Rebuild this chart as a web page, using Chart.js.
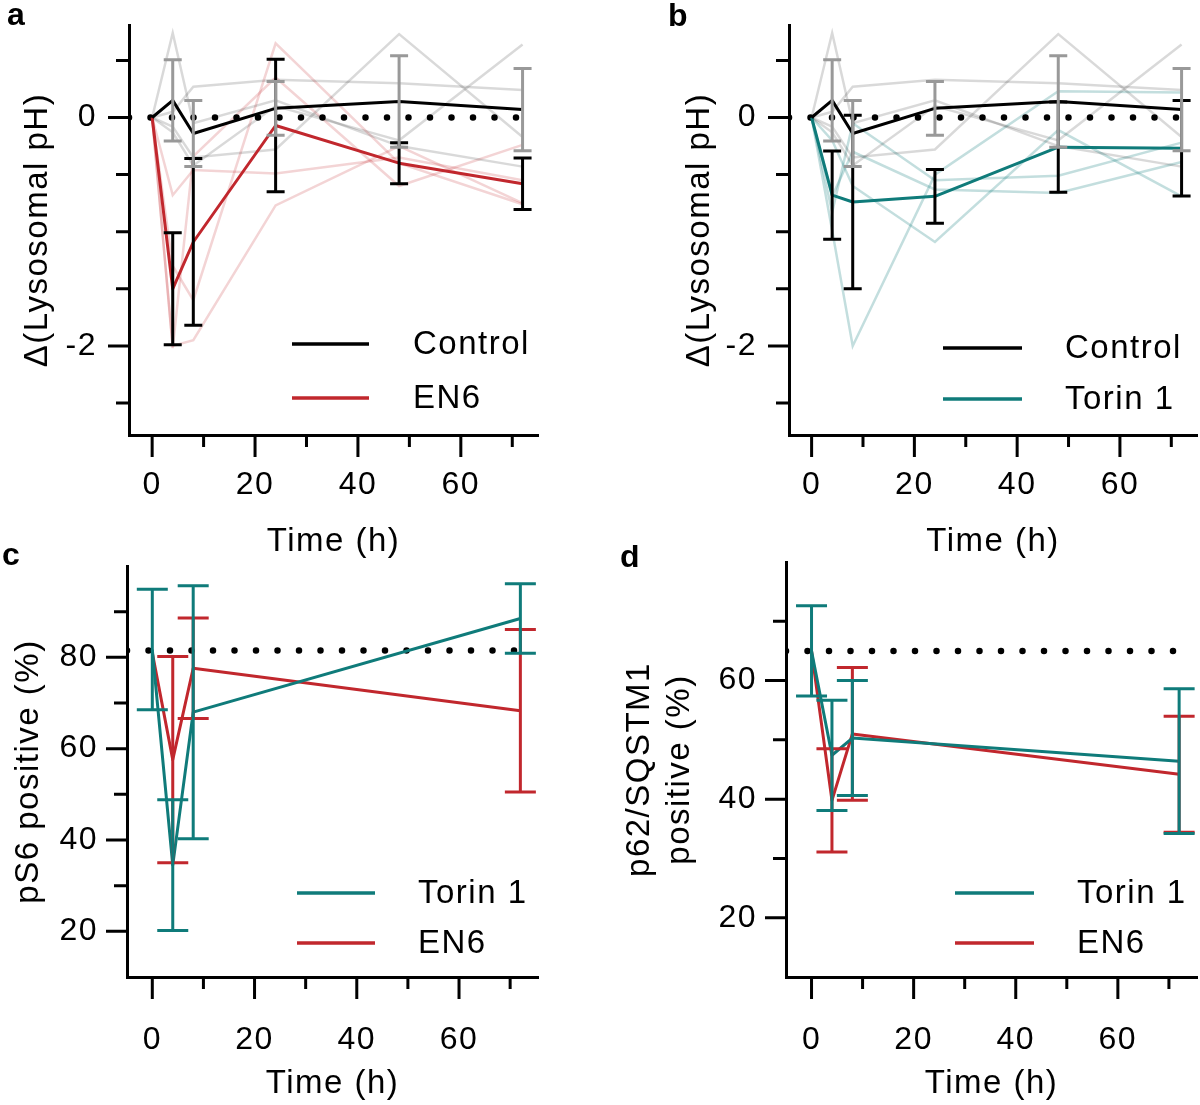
<!DOCTYPE html>
<html>
<head>
<meta charset="utf-8">
<script src="https://cdn.jsdelivr.net/npm/chart.js@4.4.1/dist/chart.umd.min.js"></script>
<style>
  html, body { margin: 0; padding: 0; background: #fff; }
  #wrap { position: relative; width: 1200px; height: 1105px; overflow: hidden; }
  canvas { position: absolute; }
</style>
</head>
<body>
<div id="wrap">
  <canvas id="pa" width="600" height="570" style="left:0;top:0"></canvas>
  <canvas id="pb" width="600" height="570" style="left:600px;top:0"></canvas>
  <canvas id="pc" width="600" height="560" style="left:0;top:545px"></canvas>
  <canvas id="pd" width="600" height="560" style="left:600px;top:545px"></canvas>
</div>
<script>
// ---------- data: lysosomal pH (panels a, b) ----------
const phTimes = [0, 4, 8, 24, 48, 72];
const controlMean = [0, 0.15, -0.14, 0.08, 0.14, 0.07];
const controlErr = [0, 0.355, 0.29, 0.235, 0.40, 0.36];
const en6PhMean = [0, -1.50, -1.09, -0.07, -0.40, -0.58];
const en6PhErr = [0, 0.49, 0.73, 0.58, 0.18, 0.225];
const torinPhMean = [0, -0.68, -0.74, -0.69, -0.26, -0.27];
const torinPhErr = [0, 0.386, 0.76, 0.235, 0.395, 0.418];

// individual replicates (faint lines)
const controlReps = [
  [0, 0.74, -0.05, 0.15, -0.25, -0.43],
  [0, 0.05, 0.27, 0.33, 0.30, 0.24],
  [0, -0.08, -0.35, -0.28, 0.73, -0.17],
  [0, -0.13, -0.42, 0.10, -0.20, 0.64]
];
const en6PhReps = [
  [0, -0.68, -0.46, -0.49, -0.35, -0.55],
  [0, -1.30, -1.60, 0.65, -0.40, -0.76],
  [0, -2.00, -1.95, -0.77, -0.25, -0.75],
  [0, -2.02, -0.34, 0.35, -0.60, -0.24]
];
const torinPhReps = [
  [0, -0.99, -2.00, -0.50, 0.23, 0.22],
  [0, -0.20, -0.60, -1.09, -0.11, -0.69],
  [0, -0.69, -0.30, -0.63, -0.66, -0.39],
  [0, -0.83, -0.05, -0.55, -0.51, -0.22]
];

// ---------- data: pS6 (panel c) and p62/SQSTM1 (panel d) ----------
const flowTimes = [0, 4, 8, 72];
const torinPS6Mean = [81.7, 34.5, 68.0, 88.5];
const torinPS6Err = [13.2, 14.3, 27.7, 7.6];
const en6PS6Mean = [81.0, 57.6, 77.6, 68.3];
const en6PS6Err = [0, 22.6, 11.0, 17.8];
const ps6Control = 81.5;

const torinP62Mean = [65.0, 47.4, 50.3, 46.4];
const torinP62Err = [7.6, 9.3, 9.7, 12.2];
const en6P62Mean = [65.0, 39.8, 51.0, 44.2];
const en6P62Err = [0, 8.7, 11.2, 9.8];
const p62Control = 65;

// ---------- axis ticks ----------
const xTicks = [0, 10, 20, 30, 40, 50, 60, 70];
const xLabels = [0, 20, 40, 60];
const phTicks = [0.5, 0, -0.5, -1, -1.5, -2, -2.5];
const phLabels = [0, -2];
const ps6Ticks = [90, 80, 70, 60, 50, 40, 30, 20];
const ps6Labels = [80, 60, 40, 20];
const p62Ticks = [70, 60, 50, 40, 30, 20];
const p62Labels = [60, 40, 20];

// ---------- colours ----------
const RED = '#c1272d';
const TEAL = '#0f7b7a';
const FAINT_RED = 'rgba(193,39,45,0.2)';
const FAINT_GREY = 'rgba(0,0,0,0.15)';
const FAINT_TEAL = 'rgba(15,123,122,0.25)';
const GREY_BAR = '#999999';
const FONT = '"Liberation Sans", Arial, sans-serif';

function pts(times, vals) {
  return times.map((t, i) => ({ x: t, y: vals[i] }));
}

function meanLine(times, vals, color) {
  return { data: pts(times, vals), borderColor: color, borderWidth: 3, pointRadius: 0,
           tension: 0, fill: false, borderJoinStyle: 'round' };
}

function faintLines(times, reps, color) {
  return reps.map(r => ({ data: pts(times, r), borderColor: color, borderWidth: 2.5,
                          pointRadius: 0, tension: 0, fill: false }));
}

function dotted(xFrom, xTo, y) {
  return { data: [{ x: xFrom, y: y }, { x: xTo, y: y }], borderColor: '#000', borderWidth: 6.5,
           borderDash: [0, 21.5], borderCapStyle: 'round', pointRadius: 0, fill: false };
}

// ---------- plugins ----------
const letterSpacing = {
  id: 'letterSpacing',
  beforeDraw(chart) { chart.ctx.letterSpacing = '1.5px'; }
};

const tickMarks = {
  id: 'tickMarks',
  afterDraw(chart) {
    const ctx = chart.ctx, area = chart.chartArea;
    const xs = chart.scales.x, ys = chart.scales.y;
    ctx.save();
    ctx.strokeStyle = '#000';
    ctx.lineWidth = 3;
    ctx.beginPath();
    xs.ticks.forEach(t => {
      const px = xs.getPixelForValue(t.value);
      const len = t.label !== '' ? 22 : 12;
      ctx.moveTo(px, area.bottom);
      ctx.lineTo(px, area.bottom + len);
    });
    ys.ticks.forEach(t => {
      const py = ys.getPixelForValue(t.value);
      const len = t.label !== '' ? 21 : 13;
      ctx.moveTo(area.left, py);
      ctx.lineTo(area.left - len, py);
    });
    ctx.stroke();
    ctx.restore();
  }
};

const errorBars = {
  id: 'errorBars',
  afterDatasetsDraw(chart, args, opts) {
    const ctx = chart.ctx, xs = chart.scales.x, ys = chart.scales.y;
    ctx.save();
    ctx.lineCap = 'butt';
    (opts.sets || []).forEach(s => {
      ctx.strokeStyle = s.color;
      ctx.lineWidth = s.width;
      s.times.forEach((t, i) => {
        const e = s.err[i];
        if (!e) return;
        const px = xs.getPixelForValue(t);
        const top = ys.getPixelForValue(s.mean[i] + e);
        const bot = ys.getPixelForValue(s.mean[i] - e);
        const h = s.cap / 2;
        ctx.beginPath();
        ctx.moveTo(px, top); ctx.lineTo(px, bot);
        ctx.moveTo(px - h, top); ctx.lineTo(px + h, top);
        ctx.moveTo(px - h, bot); ctx.lineTo(px + h, bot);
        ctx.stroke();
      });
    });
    ctx.restore();
  }
};

const lineLegend = {
  id: 'lineLegend',
  afterDraw(chart, args, opts) {
    const ctx = chart.ctx;
    ctx.save();
    ctx.font = '33px ' + FONT;
    ctx.textBaseline = 'middle';
    ctx.textAlign = 'left';
    ctx.fillStyle = '#000';
    (opts.items || []).forEach(it => {
      ctx.strokeStyle = it.color;
      ctx.lineWidth = 3.5;
      ctx.beginPath();
      ctx.moveTo(opts.x1, it.y); ctx.lineTo(opts.x2, it.y);
      ctx.stroke();
      ctx.fillText(it.label, opts.tx, it.y + 1);
    });
    ctx.restore();
  }
};

const panelLetter = {
  id: 'panelLetter',
  afterDraw(chart, args, opts) {
    const ctx = chart.ctx;
    ctx.save();
    ctx.letterSpacing = '0px';
    ctx.font = 'bold 32px ' + FONT;
    ctx.fillStyle = '#000';
    ctx.textBaseline = 'alphabetic';
    ctx.fillText(opts.text, opts.x, opts.y);
    ctx.restore();
  }
};

// ---------- chart builder ----------
function makePanel(id, p) {
  const tickFont = { family: FONT, size: 32 };
  const titleFont = { family: FONT, size: 33, lineHeight: p.titleLH || 1.2 };
  return new Chart(document.getElementById(id), {
    type: 'line',
    data: { datasets: p.datasets },
    options: {
      responsive: false,
      animation: false,
      events: [],
      layout: { padding: p.padding },
      plugins: {
        legend: { display: false },
        tooltip: { enabled: false },
        errorBars: { sets: p.bars },
        lineLegend: p.legend,
        panelLetter: p.letter
      },
      scales: {
        x: {
          type: 'linear', min: p.xMin, max: p.xMax,
          afterBuildTicks: s => { s.ticks = xTicks.map(v => ({ value: v })); },
          afterFit: s => { s.height = p.xHeight; s.paddingLeft = 0; s.paddingRight = 0; },
          grid: { display: false, drawTicks: false },
          border: { display: true, width: 3, color: '#000' },
          ticks: { padding: p.xPad, autoSkip: false, maxRotation: 0, color: '#000', font: tickFont,
                   callback: v => xLabels.includes(v) ? String(v) : '' },
          title: { display: true, text: 'Time (h)', color: '#000', font: titleFont,
                   padding: { top: 0, bottom: p.xTitlePad } }
        },
        y: {
          type: 'linear', min: p.yMin, max: p.yMax,
          afterBuildTicks: s => { s.ticks = p.yTicks.map(v => ({ value: v })); },
          afterFit: s => { s.width = p.yWidth; s.paddingTop = 0; s.paddingBottom = 0; },
          grid: { display: false, drawTicks: false },
          border: { display: true, width: 3, color: '#000' },
          ticks: { padding: p.yPad, autoSkip: false, color: '#000', font: tickFont,
                   callback: v => p.yLabels.includes(v) ? String(v) : '' },
          title: { display: true, text: p.yTitle, color: '#000', font: titleFont,
                   padding: { top: p.yTitlePad, bottom: 0 } }
        }
      }
    },
    plugins: [letterSpacing, tickMarks, errorBars, lineLegend, panelLetter]
  });
}

// panel a
makePanel('pa', {
  padding: { left: 0, top: 25, right: 62, bottom: 0 },
  xMin: -4.5, xMax: 75, yMin: -2.78, yMax: 0.81,
  xHeight: 135, yWidth: 129, xPad: 31, yPad: 32, xTitlePad: 8, yTitlePad: 18,
  yTicks: phTicks, yLabels: phLabels, yTitle: 'Δ(Lysosomal pH)',
  datasets: [
    meanLine(phTimes, controlMean, '#000'),
    meanLine(phTimes, en6PhMean, RED),
    dotted(-4.5, 72, 0),
    ...faintLines(phTimes, controlReps, FAINT_GREY),
    ...faintLines(phTimes, en6PhReps, FAINT_RED)
  ],
  bars: [
    { times: phTimes, mean: en6PhMean, err: en6PhErr, color: '#000', width: 3, cap: 18 },
    { times: phTimes, mean: controlMean, err: controlErr, color: GREY_BAR, width: 3, cap: 18 }
  ],
  legend: { x1: 292, x2: 369, tx: 413, items: [
    { label: 'Control', color: '#000', y: 344 },
    { label: 'EN6', color: RED, y: 398 }
  ] },
  letter: { text: 'a', x: 7, y: 25 }
});

// panel b
makePanel('pb', {
  padding: { left: 0, top: 25, right: 3, bottom: 0 },
  xMin: -4.4, xMax: 75, yMin: -2.78, yMax: 0.81,
  xHeight: 135, yWidth: 189, xPad: 31, yPad: 32, xTitlePad: 8, yTitlePad: 80,
  yTicks: phTicks, yLabels: phLabels, yTitle: 'Δ(Lysosomal pH)',
  datasets: [
    meanLine(phTimes, controlMean, '#000'),
    meanLine(phTimes, torinPhMean, TEAL),
    dotted(-4.4, 72, 0),
    ...faintLines(phTimes, controlReps, FAINT_GREY),
    ...faintLines(phTimes, torinPhReps, FAINT_TEAL)
  ],
  bars: [
    { times: phTimes, mean: torinPhMean, err: torinPhErr, color: '#000', width: 3, cap: 18 },
    { times: phTimes, mean: controlMean, err: controlErr, color: GREY_BAR, width: 3, cap: 18 }
  ],
  legend: { x1: 343, x2: 422, tx: 465, items: [
    { label: 'Control', color: '#000', y: 348 },
    { label: 'Torin 1', color: TEAL, y: 399 }
  ] },
  letter: { text: 'b', x: 68, y: 26 }
});

// panel c
makePanel('pc', {
  padding: { left: 0, top: 21, right: 62, bottom: 0 },
  xMin: -4.95, xMax: 75.45, yMin: 10, yMax: 100,
  xHeight: 128, yWidth: 127, xPad: 44, yPad: 29, xTitlePad: 1, yTitlePad: 9,
  yTicks: ps6Ticks, yLabels: ps6Labels, yTitle: 'pS6 positive (%)',
  datasets: [
    meanLine(flowTimes, torinPS6Mean, TEAL),
    meanLine(flowTimes, en6PS6Mean, RED),
    dotted(-4.95, 72, ps6Control)
  ],
  bars: [
    { times: flowTimes, mean: en6PS6Mean, err: en6PS6Err, color: RED, width: 3, cap: 31 },
    { times: flowTimes, mean: torinPS6Mean, err: torinPS6Err, color: TEAL, width: 3, cap: 31 }
  ],
  legend: { x1: 297, x2: 375, tx: 418, items: [
    { label: 'Torin 1', color: TEAL, y: 348 },
    { label: 'EN6', color: RED, y: 398 }
  ] },
  letter: { text: 'c', x: 2, y: 20 }
});

// panel d
makePanel('pd', {
  padding: { left: 0, top: 17, right: 3, bottom: 0 },
  xMin: -5, xMax: 75.5, yMin: 10, yMax: 80,
  xHeight: 128, yWidth: 186, xPad: 44, yPad: 29, xTitlePad: 1, yTitlePad: 19, titleLH: 1.24,
  yTicks: p62Ticks, yLabels: p62Labels, yTitle: ['p62/SQSTM1', 'positive (%)'],
  datasets: [
    meanLine(flowTimes, torinP62Mean, TEAL),
    meanLine(flowTimes, en6P62Mean, RED),
    dotted(-5, 72, p62Control)
  ],
  bars: [
    { times: flowTimes, mean: en6P62Mean, err: en6P62Err, color: RED, width: 3, cap: 31 },
    { times: flowTimes, mean: torinP62Mean, err: torinP62Err, color: TEAL, width: 3, cap: 31 }
  ],
  legend: { x1: 355, x2: 434, tx: 477, items: [
    { label: 'Torin 1', color: TEAL, y: 348 },
    { label: 'EN6', color: RED, y: 398 }
  ] },
  letter: { text: 'd', x: 20, y: 22 }
});
</script>
</body>
</html>
